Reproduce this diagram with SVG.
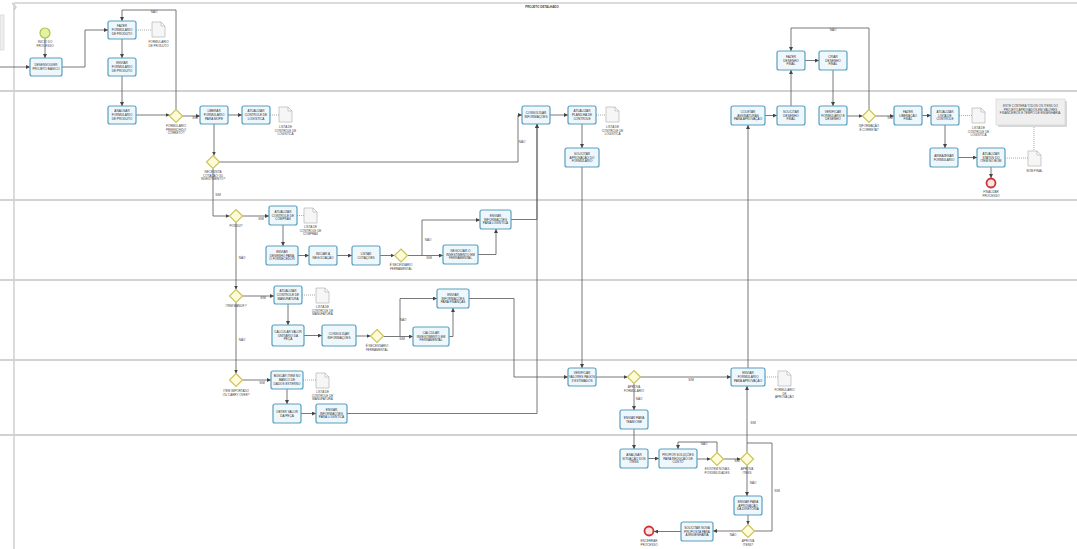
<svg xmlns="http://www.w3.org/2000/svg" width="1077" height="549" viewBox="0 0 1077 549">
<defs>
<marker id="ah" markerUnits="userSpaceOnUse" markerWidth="4" markerHeight="4" refX="4" refY="2" orient="auto"><path d="M0,0 L4,2 L0,4 z" fill="#444"/></marker>
<style>
.lane{stroke:#d2d2d2;stroke-width:2;fill:none}
.pool{stroke:#cfcfcf;stroke-width:1.5;fill:none}
.t rect{fill:#eef7fc;stroke:#5a9fbd;stroke-width:1.2}
.sh{fill:#d8d8d8;stroke:none}
.t text{font-family:"Liberation Sans",Arial,sans-serif;font-size:3.1px;fill:#333;text-anchor:middle}
.g polygon{fill:#fdfcd6;stroke:#cbc45c;stroke-width:1.2}
.lb{font-family:"Liberation Sans",Arial,sans-serif;font-size:3px;fill:#444;text-anchor:middle}
.d path{fill:#f6f6f6;stroke:#b5b5b5;stroke-width:0.7}
.c path{fill:none;stroke:#555;stroke-width:0.8;marker-end:url(#ah)}
.c path.nm{marker-end:none}
.as path{fill:none;stroke:#888;stroke-width:0.7;stroke-dasharray:1 1}
.st{fill:#e4f3a2;stroke:#a7c44a;stroke-width:1.2}
.en{fill:#fbe3e3;stroke:#cc3333;stroke-width:1.8}
</style>
</defs>
<rect width="1077" height="549" fill="#ffffff"/>
<g id="pool">
<path class="pool" d="M14,3 H1077"/>
<path class="pool" d="M14,3 V549"/>
<path class="pool" d="M12,3 L16,7 L14,10"/>
<rect x="0" y="15" width="4" height="35" fill="#eeeeee" stroke="#d0d0d0" stroke-width="0.6"/>
<path class="lane" d="M0,91 H1077 M0,200 H1077 M0,280 H1077 M0,360 H1077 M0,435 H1077"/>
<text x="542" y="7.5" class="lb" style="font-size:3px;font-weight:bold">PROJETO DETALHADO</text>
</g>
<g id="connectors">
<g class="c">
<path d="M0,67 H30"/>
<path d="M45,38 V58"/>
<path d="M62,67 H85 V30 H108"/>
<path d="M122,39 V58"/>
<path d="M122,76 V106"/>
<path d="M136,115 H169.5"/>
<path d="M176,109.5 V10 H122 V21"/>
<path d="M182.5,116 H200"/>
<path d="M228,115 H242"/>
<path d="M214,124 V155.5"/>
<path d="M219.5,162 H518 V115 H522"/>
<path d="M213,168.5 V216 H229.5"/>
<path d="M242.5,216 H269"/>
<path d="M236,222.5 V289.5"/>
<path d="M283,225 V246"/>
<path d="M298,255.5 H309"/>
<path d="M337,255.5 H352"/>
<path d="M380,255.5 H394.5"/>
<path d="M422,255.5 V220 H480"/>
<path d="M407.5,255.5 H443"/>
<path d="M478,254.5 H496 V229"/>
<path d="M511,219.5 H537 V124"/>
<path d="M242.5,296 H274"/>
<path d="M236,302.5 V373.5"/>
<path d="M288,304 V325"/>
<path d="M304,335.5 H322"/>
<path d="M356,336 H370.5"/>
<path d="M400,336 V298.5 H437"/>
<path d="M383.5,336.5 H413"/>
<path d="M449,336.5 H453 V308"/>
<path d="M469,298.5 H514 V377 H568"/>
<path d="M242.5,380 H271"/>
<path d="M287,389 V404"/>
<path d="M301,413.5 H316"/>
<path d="M347,413.5 H537 V124"/>
<path d="M582,167 V368"/>
<path d="M550,115 H568"/>
<path d="M582,124 V148"/>
<path d="M596,377 H627.5"/>
<path d="M640.5,377 H731"/>
<path d="M634,383.5 V410"/>
<path d="M634,429 V449"/>
<path d="M648,458.5 H659"/>
<path d="M697,459 H710.5"/>
<path d="M717,452.5 V442 H678 V449"/>
<path d="M723.5,459 H740.5"/>
<path d="M747,452.5 V386"/>
<path d="M747,465.5 V496"/>
<path d="M748,515 V524.5"/>
<path class="nm" d="M754.5,531 H772 V443 H747"/>
<path d="M741.5,531 H713"/>
<path d="M681,531.5 H654"/>
<path d="M748,368 V125"/>
<path d="M765,115.5 H777"/>
<path d="M791,106 V70"/>
<path d="M805,60.5 H819"/>
<path d="M833,70 V106"/>
<path d="M847,116 H862.5"/>
<path d="M869,109.5 V28 H791 V51"/>
<path d="M875.5,116 H894"/>
<path d="M922,115.5 H931"/>
<path d="M945,125 V148"/>
<path d="M958,157.5 H977"/>
<path d="M991,167 V178"/>
</g>
<g class="as">
<path d="M136,30 H152"/>
<path d="M270,115 H279"/>
<path d="M596,115 H606"/>
<path d="M959,115.5 H972"/>
<path d="M1005,158 H1028"/>
<path d="M1034,125 V151"/>
<path d="M297,215.5 H304"/>
<path d="M302,295 H316"/>
<path d="M303,380 H316"/>
<path d="M765,377 H778"/>
</g>
<g class="lb">
<text x="154" y="13">NÃO</text>
<text x="195" y="119">SIM</text>
<text x="522" y="143">NÃO</text>
<text x="218" y="196">SIM</text>
<text x="261" y="220">SIM</text>
<text x="242" y="259">NÃO</text>
<text x="263" y="299">SIM</text>
<text x="242" y="341">NÃO</text>
<text x="262" y="384">SIM</text>
<text x="428" y="241">NÃO</text>
<text x="429" y="259">SIM</text>
<text x="403" y="321">NÃO</text>
<text x="402" y="340">SIM</text>
<text x="691" y="381">SIM</text>
<text x="639" y="400">NÃO</text>
<text x="704" y="445">NÃO</text>
<text x="737" y="462">SIM</text>
<text x="753" y="424">SIM</text>
<text x="753" y="484">NÃO</text>
<text x="777" y="492">SIM</text>
<text x="733" y="536">NÃO</text>
<text x="833" y="31">NÃO</text>
<text x="890" y="119">SIM</text>
</g>
</g>
<g id="events">
<g id="e-start"><circle class="st" cx="45" cy="33" r="5"/><text class="lb" x="45" y="43">INÍCIO DO<tspan x="45" dy="3.6">PROCESSO</tspan></text></g>
<g id="e-final"><circle class="en" cx="991" cy="183" r="4.5"/><text class="lb" x="991" y="193">FINALIZAR<tspan x="991" dy="3.6">PROCESSO</tspan></text></g>
<g id="e-encerrar"><circle class="en" cx="649" cy="531" r="4.5"/><text class="lb" x="649" y="542">ENCERRAR<tspan x="649" dy="3.6">PROCESSO</tspan></text></g>
</g>
<g id="tasks" class="t">
<g id="t1"><rect x="30" y="58" width="32" height="18" rx="2"/><text x="46" y="66.25">DESENVOLVER<tspan x="46" dy="3.8">PROJETO BÁSICO</tspan></text></g>
<g id="t2"><rect x="108" y="21" width="28" height="18" rx="2"/><text x="122" y="27.35">FAZER<tspan x="122" dy="3.8">FORMULÁRIO</tspan><tspan x="122" dy="3.8">DE PRODUTO</tspan></text></g>
<g id="t3"><rect x="108" y="58" width="28" height="18" rx="2"/><text x="122" y="64.35">ENVIAR<tspan x="122" dy="3.8">FORMULÁRIO</tspan><tspan x="122" dy="3.8">DE PRODUTO</tspan></text></g>
<g id="t4"><rect x="108" y="106" width="28" height="18" rx="2"/><text x="122" y="112.35">ANALISAR<tspan x="122" dy="3.8">FORMULÁRIO</tspan><tspan x="122" dy="3.8">DE PRODUTO</tspan></text></g>
<g id="t5"><rect x="200" y="106" width="28" height="18" rx="2"/><text x="214" y="112.35">LIBERAR<tspan x="214" dy="3.8">FORMULÁRIO</tspan><tspan x="214" dy="3.8">PARA MOPE</tspan></text></g>
<g id="t6"><rect x="242" y="106" width="28" height="18" rx="2"/><text x="256" y="112.35">ATUALIZAR<tspan x="256" dy="3.8">CONTROLE DE</tspan><tspan x="256" dy="3.8">LOGÍSTICA</tspan></text></g>
<g id="t7"><rect x="522" y="106" width="28" height="18" rx="2"/><text x="536" y="114.25">CONSOLIDAR<tspan x="536" dy="3.8">INFORMAÇÕES</tspan></text></g>
<g id="t8"><rect x="568" y="106" width="28" height="18" rx="2"/><text x="582" y="112.35">ATUALIZAR<tspan x="582" dy="3.8">PLANILHA DE</tspan><tspan x="582" dy="3.8">CONTROLE</tspan></text></g>
<g id="t9"><rect x="565" y="148" width="34" height="19" rx="2"/><text x="582" y="154.85">SOLICITAR<tspan x="582" dy="3.8">APROVAÇÃO DO</tspan><tspan x="582" dy="3.8">FORMULÁRIO</tspan></text></g>
<g id="t10"><rect x="731" y="106" width="34" height="19" rx="2"/><text x="748" y="112.85">COLETAR<tspan x="748" dy="3.8">ASSINATURAS</tspan><tspan x="748" dy="3.8">PARA APROVAÇÃO</tspan></text></g>
<g id="t11"><rect x="777" y="106" width="28" height="19" rx="2"/><text x="791" y="112.85">SOLICITAR<tspan x="791" dy="3.8">DESENHO</tspan><tspan x="791" dy="3.8">FINAL</tspan></text></g>
<g id="t12"><rect x="777" y="51" width="28" height="19" rx="2"/><text x="791" y="57.85">FAZER<tspan x="791" dy="3.8">DESENHO</tspan><tspan x="791" dy="3.8">FINAL</tspan></text></g>
<g id="t13"><rect x="819" y="51" width="28" height="19" rx="2"/><text x="833" y="57.85">CRIAR<tspan x="833" dy="3.8">DESENHO</tspan><tspan x="833" dy="3.8">FINAL</tspan></text></g>
<g id="t14"><rect x="819" y="106" width="28" height="19" rx="2"/><text x="833" y="112.85">VERIFICAR<tspan x="833" dy="3.8">FORMULÁRIO E</tspan><tspan x="833" dy="3.8">DESENHO</tspan></text></g>
<g id="t15"><rect x="894" y="106" width="28" height="19" rx="2"/><text x="908" y="112.85">FAZER<tspan x="908" dy="3.8">LIBERAÇÃO</tspan><tspan x="908" dy="3.8">FINAL</tspan></text></g>
<g id="t16"><rect x="931" y="106" width="28" height="19" rx="2"/><text x="945" y="112.85">ATUALIZAR<tspan x="945" dy="3.8">LISTA DE</tspan><tspan x="945" dy="3.8">CONTROLE</tspan></text></g>
<g id="t17"><rect x="930" y="148" width="28" height="19" rx="2"/><text x="944" y="156.75">ARMAZENAR<tspan x="944" dy="3.8">FORMULÁRIO</tspan></text></g>
<g id="t18"><rect x="977" y="148" width="28" height="19" rx="2"/><text x="991" y="154.85">ATUALIZAR<tspan x="991" dy="3.8">STATUS DO</tspan><tspan x="991" dy="3.8">ITEM NO BOM</tspan></text></g>
<g id="t19"><rect x="269" y="206" width="28" height="19" rx="2"/><text x="283" y="212.85">ATUALIZAR<tspan x="283" dy="3.8">CONTROLE DE</tspan><tspan x="283" dy="3.8">COMPRAS</tspan></text></g>
<g id="t20"><rect x="266" y="246" width="32" height="19" rx="2"/><text x="282" y="252.85">ENVIAR<tspan x="282" dy="3.8">DESENHO PARA</tspan><tspan x="282" dy="3.8">O FORNECEDOR</tspan></text></g>
<g id="t21"><rect x="309" y="246" width="28" height="19" rx="2"/><text x="323" y="254.75">INICIAR A<tspan x="323" dy="3.8">NEGOCIAÇÃO</tspan></text></g>
<g id="t22"><rect x="352" y="246" width="28" height="19" rx="2"/><text x="366" y="254.75">LISTAR<tspan x="366" dy="3.8">COTAÇÕES</tspan></text></g>
<g id="t23"><rect x="443" y="245" width="35" height="19" rx="2"/><text x="460.5" y="251.85">NEGOCIAR O<tspan x="460.5" dy="3.8">INVESTIMENTO EM</tspan><tspan x="460.5" dy="3.8">FERRAMENTAL</tspan></text></g>
<g id="t24"><rect x="480" y="210" width="31" height="19" rx="2"/><text x="495.5" y="216.85">ENVIAR<tspan x="495.5" dy="3.8">INFORMAÇÕES</tspan><tspan x="495.5" dy="3.8">PARA LOGÍSTICA</tspan></text></g>
<g id="t25"><rect x="274" y="286" width="28" height="18" rx="2"/><text x="288" y="292.35">ATUALIZAR<tspan x="288" dy="3.8">CONTROLE DE</tspan><tspan x="288" dy="3.8">MANUFATURA</tspan></text></g>
<g id="t26"><rect x="272" y="325" width="32" height="21" rx="2"/><text x="288" y="332.85">CALCULAR VALOR<tspan x="288" dy="3.8">UNITÁRIO DA</tspan><tspan x="288" dy="3.8">PEÇA</tspan></text></g>
<g id="t27"><rect x="322" y="325" width="34" height="21" rx="2"/><text x="339" y="334.75">CONSOLIDAR<tspan x="339" dy="3.8">INFORMAÇÕES</tspan></text></g>
<g id="t28"><rect x="413" y="327" width="36" height="19" rx="2"/><text x="431" y="333.85">CALCULAR<tspan x="431" dy="3.8">INVESTIMENTO EM</tspan><tspan x="431" dy="3.8">FERRAMENTAL</tspan></text></g>
<g id="t29"><rect x="437" y="289" width="32" height="19" rx="2"/><text x="453" y="295.85">ENVIAR<tspan x="453" dy="3.8">INFORMAÇÕES</tspan><tspan x="453" dy="3.8">PARA FINANÇAS</tspan></text></g>
<g id="t30"><rect x="271" y="371" width="32" height="18" rx="2"/><text x="287" y="377.35">BUSCAR ITEM NO<tspan x="287" dy="3.8">BANCO DE</tspan><tspan x="287" dy="3.8">DADOS EXTERNO</tspan></text></g>
<g id="t31"><rect x="273" y="404" width="28" height="19" rx="2"/><text x="287" y="412.75">OBTER VALOR<tspan x="287" dy="3.8">DA PEÇA</tspan></text></g>
<g id="t32"><rect x="316" y="404" width="31" height="19" rx="2"/><text x="331.5" y="410.85">ENVIAR<tspan x="331.5" dy="3.8">INFORMAÇÕES</tspan><tspan x="331.5" dy="3.8">PARA LOGÍSTICA</tspan></text></g>
<g id="t33"><rect x="568" y="368" width="28" height="18" rx="2"/><text x="582" y="374.35">VERIFICAR<tspan x="582" dy="3.8">VALORES PAGOS</tspan><tspan x="582" dy="3.8">X ESTIMADOS</tspan></text></g>
<g id="t34"><rect x="731" y="368" width="34" height="18" rx="2"/><text x="748" y="374.35">ENVIAR<tspan x="748" dy="3.8">FORMULÁRIO</tspan><tspan x="748" dy="3.8">PARA APROVAÇÃO</tspan></text></g>
<g id="t35"><rect x="620" y="410" width="28" height="19" rx="2"/><text x="634" y="418.75">ENVIAR PARA<tspan x="634" dy="3.8">TEAM ONE</tspan></text></g>
<g id="t36"><rect x="620" y="449" width="28" height="19" rx="2"/><text x="634" y="455.85">ANALISAR<tspan x="634" dy="3.8">SITUAÇÃO DOS</tspan><tspan x="634" dy="3.8">ITENS</tspan></text></g>
<g id="t37"><rect x="659" y="449" width="38" height="19" rx="2"/><text x="678" y="455.85">PROPOR SOLUÇÕES<tspan x="678" dy="3.8">PARA REDUÇÃO DE</tspan><tspan x="678" dy="3.8">CUSTO</tspan></text></g>
<g id="t38"><rect x="734" y="496" width="28" height="19" rx="2"/><text x="748" y="502.85">ENVIAR PARA<tspan x="748" dy="3.8">APROVAÇÃO</tspan><tspan x="748" dy="3.8">DA DIRETORIA</tspan></text></g>
<g id="t39"><rect x="681" y="522" width="32" height="19" rx="2"/><text x="697" y="528.85">SOLICITAR NOVA<tspan x="697" dy="3.8">PROPOSTA PARA</tspan><tspan x="697" dy="3.8">A ENGENHARIA</tspan></text></g>
</g>
<g id="gateways" class="g">
<g id="g1"><polygon points="176,109.5 182.5,116 176,122.5 169.5,116"/><text class="lb" x="176" y="127">FORMULÁRIO<tspan x="176" dy="3.6">PREENCHIDO</tspan><tspan x="176" dy="3.6">CORRETO?</tspan></text></g>
<g id="g2"><polygon points="213,155.5 219.5,162 213,168.5 206.5,162"/><text class="lb" x="213" y="173">NECESSITA<tspan x="213" dy="3.6">COTAÇÃO OU</tspan><tspan x="213" dy="3.6">INVESTIMENTO?</tspan></text></g>
<g id="g3"><polygon points="236,209.5 242.5,216 236,222.5 229.5,216"/><text class="lb" x="236" y="227">POSSUI?</text></g>
<g id="g4"><polygon points="401,249 407.5,255.5 401,262 394.5,255.5"/><text class="lb" x="401" y="266">É NECESSÁRIO<tspan x="401" dy="3.6">FERRAMENTAL</tspan></text></g>
<g id="g5"><polygon points="236,289.5 242.5,296 236,302.5 229.5,296"/><text class="lb" x="236" y="307">ITEM MANUF.?</text></g>
<g id="g6"><polygon points="377,329.5 383.5,336 377,342.5 370.5,336"/><text class="lb" x="377" y="347">É NECESSÁRIO<tspan x="377" dy="3.6">FERRAMENTAL</tspan></text></g>
<g id="g7"><polygon points="236,373.5 242.5,380 236,386.5 229.5,380"/><text class="lb" x="236" y="392">ITEM IMPORTADO<tspan x="236" dy="3.6">OU CARRY OVER?</tspan></text></g>
<g id="g8"><polygon points="634,370.5 640.5,377 634,383.5 627.5,377"/><text class="lb" x="634" y="388">APROVA<tspan x="634" dy="3.6">FORMULÁRIO</tspan></text></g>
<g id="g9"><polygon points="717,452.5 723.5,459 717,465.5 710.5,459"/><text class="lb" x="717" y="470">EXISTEM NOVAS<tspan x="717" dy="3.6">POSSIBILIDADES</tspan></text></g>
<g id="g10"><polygon points="747,452.5 753.5,459 747,465.5 740.5,459"/><text class="lb" x="747" y="470">APROVA<tspan x="747" dy="3.6">ITENS</tspan></text></g>
<g id="g11"><polygon points="748,524.5 754.5,531 748,537.5 741.5,531"/><text class="lb" x="748" y="542">APROVA<tspan x="748" dy="3.6">ITENS?</tspan></text></g>
<g id="g12"><polygon points="869,109.5 875.5,116 869,122.5 862.5,116"/><text class="lb" x="869" y="127">INFORMAÇÃO<tspan x="869" dy="3.6">É CORRETA?</tspan></text></g>
</g>
<g id="docs" class="d">
<g id="d1"><path d="M152,22 h9 l4,4 v11 h-13 z M161,22 v4 h4"/><text class="lb" x="158.5" y="43">FORMULÁRIO<tspan x="158.5" dy="3.6">DE PRODUTO</tspan></text></g>
<g id="d2"><path d="M279,107 h9 l4,4 v11 h-13 z M288,107 v4 h4"/><text class="lb" x="285.5" y="128">LISTA DE<tspan x="285.5" dy="3.6">CONTROLE DE</tspan><tspan x="285.5" dy="3.6">LOGÍSTICA</tspan></text></g>
<g id="d3"><path d="M606,107 h9 l4,4 v11 h-13 z M615,107 v4 h4"/><text class="lb" x="612.5" y="128">LISTA DE<tspan x="612.5" dy="3.6">CONTROLE DE</tspan><tspan x="612.5" dy="3.6">LOGÍSTICA</tspan></text></g>
<g id="d4"><path d="M972,108 h9 l4,4 v11 h-13 z M981,108 v4 h4"/><text class="lb" x="978.5" y="129">LISTA DE<tspan x="978.5" dy="3.6">CONTROLE DE</tspan><tspan x="978.5" dy="3.6">LOGÍSTICA</tspan></text></g>
<g id="d5"><path d="M1028,151 h9 l4,4 v11 h-13 z M1037,151 v4 h4"/><text class="lb" x="1034.5" y="172">BOM FINAL</text></g>
<g id="d6"><path d="M304,208 h9 l4,4 v11 h-13 z M313,208 v4 h4"/><text class="lb" x="310.5" y="228">LISTA DE<tspan x="310.5" dy="3.6">CONTROLE DE</tspan><tspan x="310.5" dy="3.6">COMPRAS</tspan></text></g>
<g id="d7"><path d="M316,288 h9 l4,4 v11 h-13 z M325,288 v4 h4"/><text class="lb" x="322.5" y="308">LISTA DE<tspan x="322.5" dy="3.6">CONTROLE DE</tspan><tspan x="322.5" dy="3.6">MANUFATURA</tspan></text></g>
<g id="d8"><path d="M316,373 h9 l4,4 v11 h-13 z M325,373 v4 h4"/><text class="lb" x="322.5" y="393">LISTA DE<tspan x="322.5" dy="3.6">CONTROLE DE</tspan><tspan x="322.5" dy="3.6">MANUFATURA</tspan></text></g>
<g id="d9"><path d="M778,371 h9 l4,4 v11 h-13 z M787,371 v4 h4"/><text class="lb" x="784.5" y="391">FORMULÁRIO<tspan x="784.5" dy="3.6">DE</tspan><tspan x="784.5" dy="3.6">APROVAÇÃO</tspan></text></g>
</g>
<g id="note">
<rect x="998" y="101" width="69" height="26" fill="#d9d9d9"/>
<rect x="996" y="99" width="69" height="26" fill="#efefef" stroke="#d0d0d0" stroke-width="0.6"/>
<text class="lb" x="1030.5" y="107">ESTE CONTERÁ TODOS OS ITENS DO<tspan x="1030.5" dy="3.6">PROJETO APROVADOS EM VALORES</tspan><tspan x="1030.5" dy="3.6">FINANCEIROS E TEMPO DE ENGENHARIA.</tspan></text>
</g>
</svg>
